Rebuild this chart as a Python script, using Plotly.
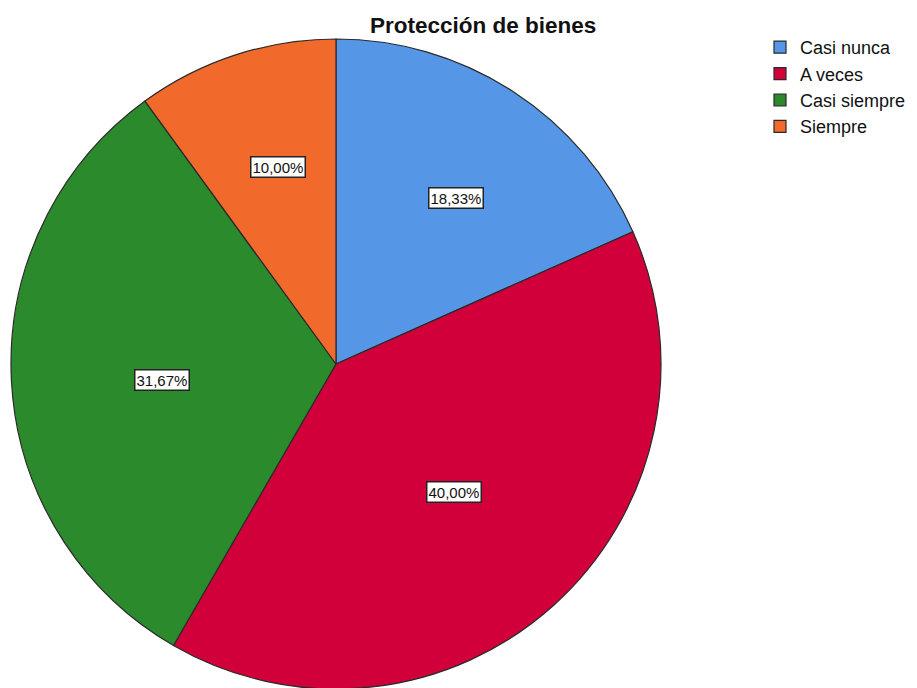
import math

import plotly.graph_objects as go

# Frequencies (n = 60)
categories = ["Casi nunca", "A veces", "Casi siempre", "Siempre"]
counts = [11, 24, 19, 6]
colors = ["#5596E6", "#D2003A", "#2B8A2B", "#F26A2B"]
title = "Protección de bienes"

W, H = 917, 688
CX, CY, R = 336, 362, 325  # pie centre / radius in pixels
DX, DY = -8, -6  # correction for plotly's own placement inside the domain

fig = go.Figure()

fig.add_trace(go.Pie(
    labels=categories,
    values=counts,
    sort=False,
    direction="clockwise",
    rotation=0,
    marker=dict(colors=colors, line=dict(color="#2a2a2a", width=1.2)),
    textinfo="none",
    hoverinfo="label+percent",
    domain=dict(
        x=[(CX + DX - R) / W, (CX + DX + R) / W],
        y=[1 - (CY + DY + R) / H, 1 - (CY + DY - R) / H],
    ),
))

# boxed percentage labels, placed at the centroid of each slice
total = sum(counts)
cum = 0
annotations = []
for name, v in zip(categories, counts):
    alpha = v / total * 2 * math.pi
    mid = cum / total * 2 * math.pi + alpha / 2
    cum += v
    pct = v / total * 100
    rr = (2 / 3) * R * math.sin(alpha / 2) / (alpha / 2)
    px = CX + rr * math.sin(mid)
    py = CY - rr * math.cos(mid)
    annotations.append(dict(
        x=px / W, y=1 - py / H, xref="paper", yref="paper",
        xanchor="center", yanchor="middle",
        text=f"{pct:.2f}%".replace(".", ","),
        showarrow=False,
        font=dict(family="Liberation Sans, Arial", size=15, color="#111"),
        bgcolor="white", bordercolor="#222", borderwidth=1.5, borderpad=1,
    ))

annotations.append(dict(
    x=475 / W, y=1 - 17 / H, xref="paper", yref="paper",
    xanchor="center", yanchor="middle",
    text="<b>" + title + "</b>", showarrow=False,
    font=dict(family="Liberation Sans, Arial", size=22.5, color="#111"),
))

fig.update_layout(
    width=W,
    height=H,
    margin=dict(l=0, r=0, t=0, b=0),
    paper_bgcolor="white",
    plot_bgcolor="white",
    annotations=annotations,
    legend=dict(
        x=752 / W, y=1 - 21 / H, xanchor="left", yanchor="top",
        font=dict(family="Liberation Sans, Arial", size=18, color="#111"),
        traceorder="normal",
        itemwidth=30,
        tracegroupgap=0,
    ),
)

fig.write_html("out.html")
